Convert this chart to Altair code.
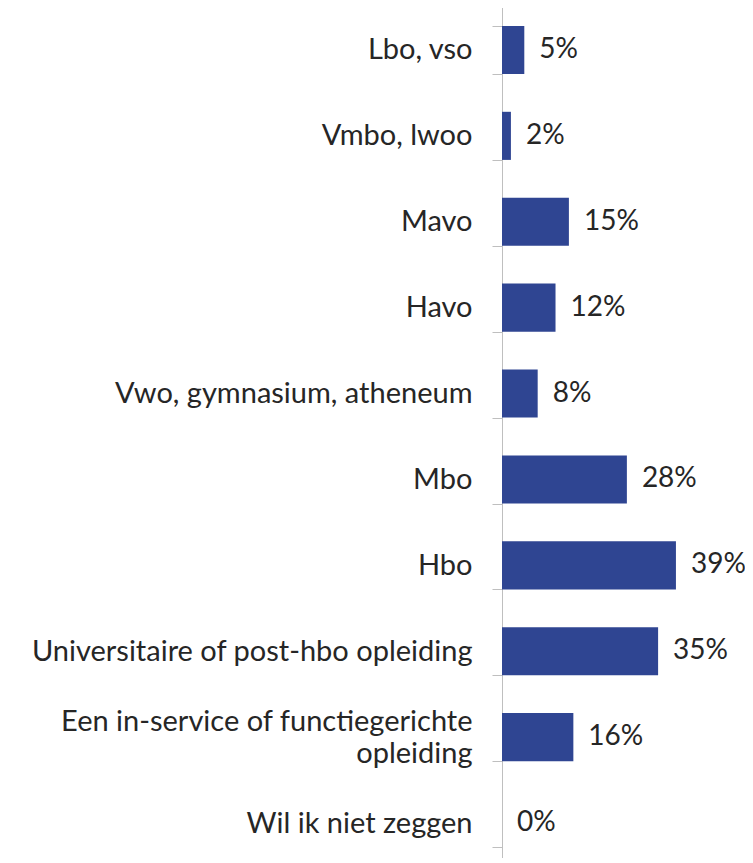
import altair as alt
import pandas as pd

categories = [
    "Lbo, vso",
    "Vmbo, lwoo",
    "Mavo",
    "Havo",
    "Vwo, gymnasium, atheneum",
    "Mbo",
    "Hbo",
    "Universitaire of post-hbo opleiding",
    "Een in-service of functiegerichte|opleiding",
    "Wil ik niet zeggen",
]
values = [5, 2, 15, 12, 8, 28, 39, 35, 16, 0]
labels = ["5%", "2%", "15%", "12%", "8%", "28%", "39%", "35%", "16%", "0%"]

df = pd.DataFrame({"cat": categories, "val": values, "lab": labels})

FONT = "Lato"
BAR = "#2F4592"

y = alt.Y(
    "cat:N",
    sort=categories,
    scale=alt.Scale(paddingInner=0.44, paddingOuter=0.22, range=[-1, 858]),
    axis=alt.Axis(
        title=None,
        labelExpr="split(datum.label, '|')",
        labelFont=FONT,
        labelFontSize=29,
        labelColor="#262626",
        labelPadding=20,
        labelLineHeight=32,
        labelLimit=600,
        labelOffset={
            "condition": {"test": "indexof(datum.label, '|') >= 0", "value": -16},
            "value": 0,
        },
        tickBand="extent",
        tickSize=10,
        tickColor="#BFBFBF",
        domainColor="#BFBFBF",
        grid=False,
    ),
)
x = alt.X("val:Q", scale=alt.Scale(domain=[0, 50]), axis=None)

bars = alt.Chart(df).mark_bar(color=BAR).encode(x=x, y=y)
text = alt.Chart(df).mark_text(
    align="left", baseline="middle", dx=15, font=FONT, fontSize=28, color="#262626"
).encode(x=x, y=alt.Y("cat:N", sort=categories), text="lab:N")

chart = (
    (bars + text)
    .properties(
        width=223,
        height=850,
        autosize=alt.AutoSizeParams(type="none"),
        padding={"left": 494, "top": 0, "right": 20, "bottom": 0},
    )
    .configure_view(stroke=None)
)
chart.save("out.html", embed_options={"renderer": "svg", "actions": False})
